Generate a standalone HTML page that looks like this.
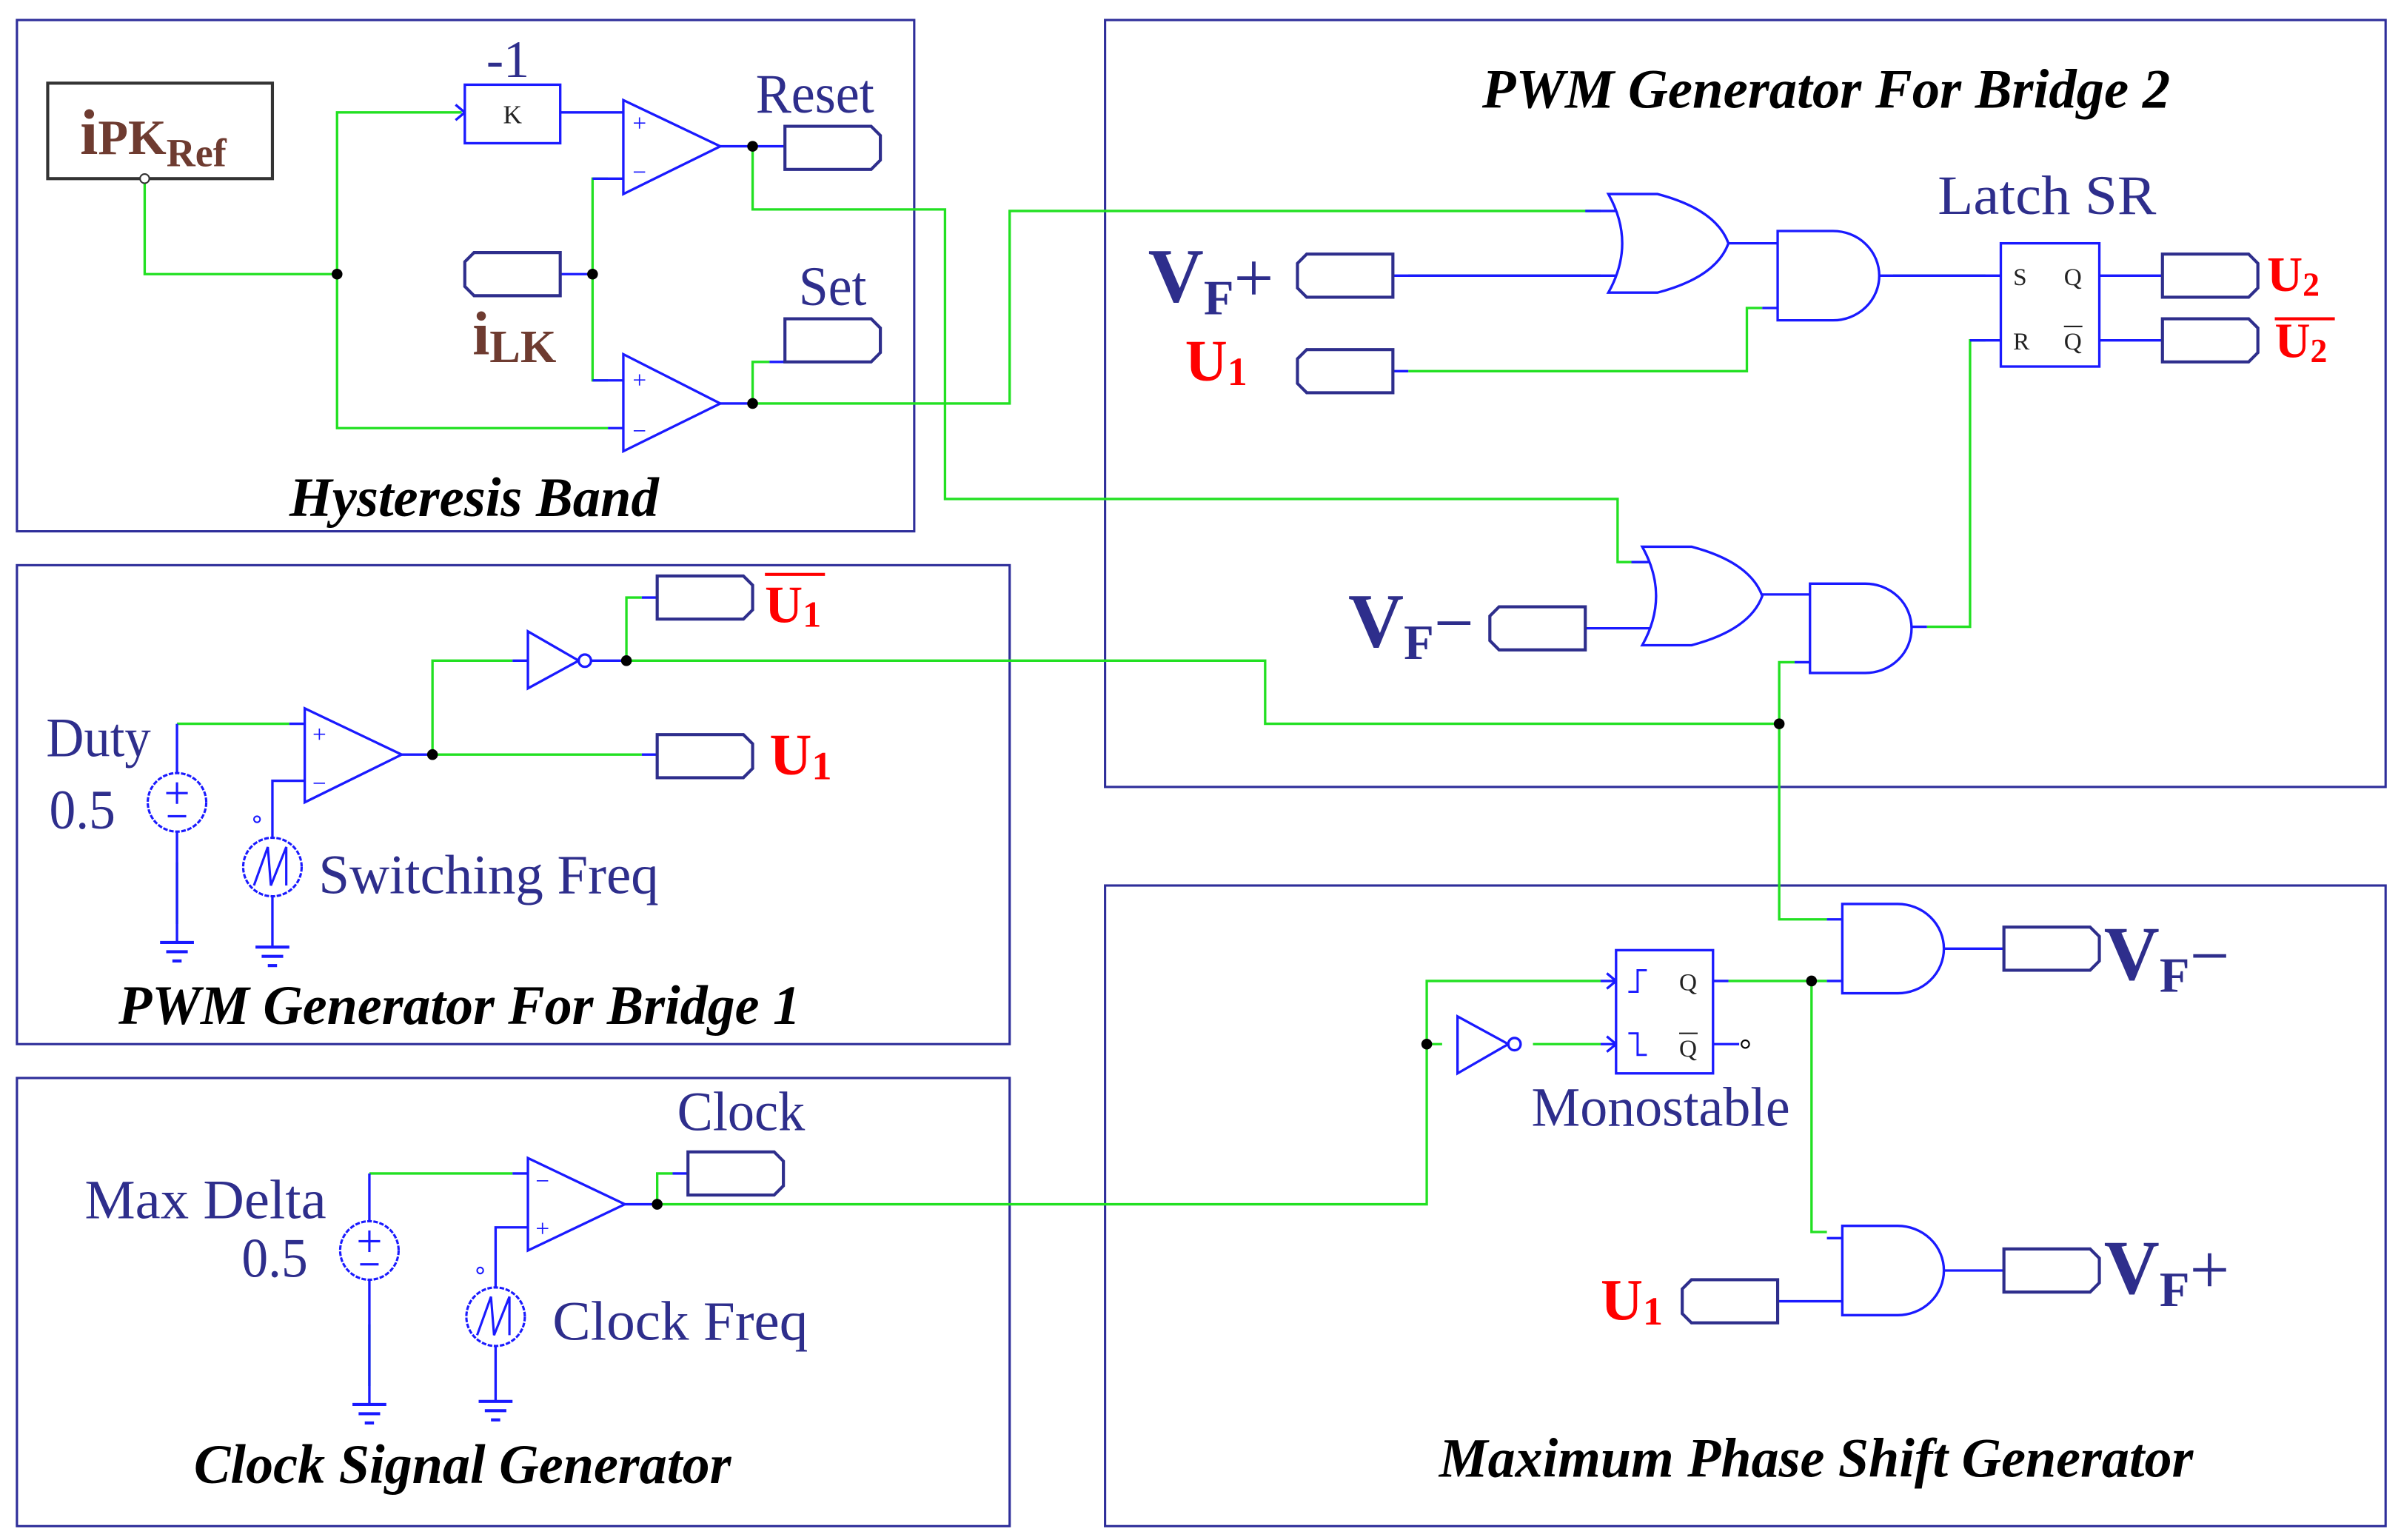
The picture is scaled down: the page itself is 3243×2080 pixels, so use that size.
<!DOCTYPE html>
<html><head><meta charset="utf-8"><style>
html,body{margin:0;padding:0;background:#fff;}
svg{display:block;}
text{font-family:"Liberation Serif",serif;}
.nv{fill:#2e2e8c;}
.rd{fill:#ff0000;font-weight:bold;}
.br{fill:#6e3b30;font-weight:bold;}
.tt{font-weight:bold;font-style:italic;fill:#000;font-size:36px;}
</style></head><body>
<svg width="3243" height="2080" viewBox="0 0 1560 1000" preserveAspectRatio="none" xmlns="http://www.w3.org/2000/svg">
<defs>
<path id="tagR" d="M0,0 h56 l6,6 v16 l-6,6 h-56 z" fill="#fff" stroke="#2e2e8c" stroke-width="2"/>
<path id="tagL" d="M6,0 h56 v28 h-56 l-6,-6 v-16 z" fill="#fff" stroke="#2e2e8c" stroke-width="2"/>
<path id="and" d="M0,0 h36 a30,29 0 0 1 0,58 h-36 z" fill="#fff" stroke="#1a1aff" stroke-width="1.6"/>
<path id="or" d="M0,0 h32 q38,10 46,32 q-8,22 -46,32 h-32 q18,-32 0,-64 z" fill="#fff" stroke="#1a1aff" stroke-width="1.6"/>
<g id="gnd" stroke="#1a1aff" stroke-width="2"><line x1="-11" y1="0" x2="11" y2="0"/><line x1="-7" y1="6" x2="7" y2="6"/><line x1="-3" y1="12" x2="3" y2="12"/></g>
</defs>
<g fill="none" stroke="#2e2e9a" stroke-width="1.5">
<rect x="11" y="13" width="583" height="332"/>
<rect x="718" y="13" width="832" height="498"/>
<rect x="11" y="367" width="645" height="311"/>
<rect x="11" y="700" width="645" height="291"/>
<rect x="718" y="575" width="832" height="416"/>
</g>
<g fill="none" stroke="#22e022" stroke-width="1.6">
<polyline points="94,118 94,178 219,178"/>
<polyline points="300,73 219,73 219,278 395,278"/>
<polyline points="395,116 385,116 385,247 395,247"/>
<polyline points="489,95 489,136 614,136 614,324 1051,324 1051,365 1070,365"/>
<polyline points="489,262 656,262 656,137 1040,137"/>
<polyline points="489,262 489,235 500,235"/>
<line x1="915" y1="179" x2="1040" y2="179"/>
<polyline points="915,241 1135,241 1135,200 1145,200"/>
<line x1="1230" y1="179" x2="1290" y2="179"/>
<polyline points="1252,407 1280,407 1280,221 1290,221"/>
<polyline points="1166,430 1156,430 1156,597 1187,597"/>
<polyline points="407,429 822,429 822,470 1156,470"/>
<polyline points="115,470 188,470"/>
<polyline points="281,490 417,490"/>
<polyline points="281,490 281,429 333,429"/>
<polyline points="407,429 407,388 417,388"/>
<polyline points="240,762 333,762"/>
<polyline points="427,782 927,782 927,637 1040,637"/>
<polyline points="427,782 427,762 437,762"/>
<line x1="927" y1="678" x2="937" y2="678"/>
<line x1="996" y1="678" x2="1040" y2="678"/>
<polyline points="1123,637 1187,637"/>
<polyline points="1177,637 1177,800 1187,800"/>
<line x1="115" y1="560" x2="115" y2="600"/>
<line x1="240" y1="860" x2="240" y2="900"/>
</g>
<g fill="none" stroke="#1a1aff" stroke-width="1.6">
<line x1="364" y1="73" x2="405" y2="73"/>
<line x1="385" y1="116" x2="405" y2="116"/>
<line x1="385" y1="247" x2="405" y2="247"/>
<line x1="395" y1="278" x2="405" y2="278"/>
<line x1="468" y1="95" x2="510" y2="95"/>
<line x1="468" y1="262" x2="489" y2="262"/>
<line x1="500" y1="235" x2="510" y2="235"/>
<line x1="364" y1="178" x2="385" y2="178"/>
<line x1="905" y1="179" x2="1050" y2="179"/>
<line x1="1030" y1="137" x2="1050" y2="137"/>
<line x1="905" y1="241" x2="915" y2="241"/>
<line x1="1116" y1="158" x2="1155" y2="158"/>
<line x1="1145" y1="200" x2="1155" y2="200"/>
<line x1="1221" y1="179" x2="1300" y2="179"/>
<line x1="1280" y1="221" x2="1300" y2="221"/>
<line x1="1364" y1="179" x2="1405" y2="179"/>
<line x1="1364" y1="221" x2="1405" y2="221"/>
<line x1="1060" y1="365" x2="1078" y2="365"/>
<line x1="1030" y1="408" x2="1078" y2="408"/>
<line x1="1138" y1="386" x2="1176" y2="386"/>
<line x1="1166" y1="430" x2="1176" y2="430"/>
<line x1="1242" y1="407" x2="1252" y2="407"/>
<line x1="115" y1="470" x2="115" y2="502"/>
<line x1="115" y1="540" x2="115" y2="612"/>
<line x1="188" y1="470" x2="198" y2="470"/>
<polyline points="198,507 177,507 177,544"/>
<line x1="177" y1="582" x2="177" y2="615"/>
<line x1="261" y1="490" x2="281" y2="490"/>
<line x1="417" y1="490" x2="427" y2="490"/>
<line x1="333" y1="429" x2="343" y2="429"/>
<line x1="383" y1="429" x2="407" y2="429"/>
<line x1="417" y1="388" x2="427" y2="388"/>
<line x1="240" y1="762" x2="240" y2="793"/>
<line x1="240" y1="831" x2="240" y2="912"/>
<line x1="333" y1="762" x2="343" y2="762"/>
<polyline points="343,797 322,797 322,836"/>
<line x1="322" y1="874" x2="322" y2="910"/>
<line x1="406" y1="782" x2="427" y2="782"/>
<line x1="437" y1="762" x2="447" y2="762"/>
<line x1="1040" y1="637" x2="1050" y2="637"/>
<line x1="1040" y1="678" x2="1050" y2="678"/>
<line x1="1113" y1="637" x2="1123" y2="637"/>
<line x1="1113" y1="678" x2="1130" y2="678"/>
<line x1="1187" y1="597" x2="1197" y2="597"/>
<line x1="1187" y1="637" x2="1197" y2="637"/>
<line x1="1187" y1="804" x2="1197" y2="804"/>
<line x1="1155" y1="845" x2="1197" y2="845"/>
<line x1="1263" y1="616" x2="1302" y2="616"/>
<line x1="1263" y1="825" x2="1302" y2="825"/>
<polyline points="296,68 302,73 296,78"/>
<polyline points="1044,632 1050,637 1044,642"/>
<polyline points="1044,673 1050,678 1044,683"/>
</g>
<rect x="31" y="54" width="146" height="62" fill="#fff" stroke="#333" stroke-width="2"/>
<circle cx="94" cy="116" r="3" fill="#fff" stroke="#333"/>
<text x="52" y="100" class="br" font-size="42">i<tspan font-size="32">PK</tspan><tspan font-size="26" dy="8">Ref</tspan></text>
<rect x="302" y="55" width="62" height="38" fill="#fff" stroke="#1a1aff" stroke-width="1.6"/>
<text x="333" y="80" font-size="17" text-anchor="middle" fill="#222">K</text>
<text x="316" y="50" class="nv" font-size="34" textLength="28" lengthAdjust="spacingAndGlyphs">-1</text>
<g fill="#fff" stroke="#1a1aff" stroke-width="1.6">
<polygon points="405,65 405,126 468,95"/>
<polygon points="405,230 405,293 468,262"/>
<polygon points="198,460 198,521 261,490"/>
<polygon points="343,752 343,812 406,782"/>
<polygon points="343,410 343,447 376,429"/>
<circle cx="380" cy="429" r="4"/>
<polygon points="947,660 947,697 980,678"/>
<circle cx="984" cy="678" r="4"/>
</g>
<g fill="#1a1aff" font-size="16" font-family="Liberation Sans,sans-serif">
<text x="411" y="85">+</text><text x="411" y="117">−</text>
<text x="411" y="252">+</text><text x="411" y="285">−</text>
<text x="203" y="482">+</text><text x="203" y="514">−</text>
<text x="348" y="772">−</text><text x="348" y="803">+</text>
</g>
<g fill="#000">
<circle cx="219" cy="178" r="3.5"/><circle cx="385" cy="178" r="3.5"/>
<circle cx="489" cy="95" r="3.5"/><circle cx="489" cy="262" r="3.5"/>
<circle cx="281" cy="490" r="3.5"/><circle cx="407" cy="429" r="3.5"/>
<circle cx="427" cy="782" r="3.5"/><circle cx="927" cy="678" r="3.5"/>
<circle cx="1156" cy="470" r="3.5"/><circle cx="1177" cy="637" r="3.5"/>
</g>
<use href="#tagR" x="510" y="82"/>
<use href="#tagR" x="510" y="207"/>
<use href="#tagL" x="302" y="164"/>
<use href="#tagL" x="843" y="165"/>
<use href="#tagL" x="843" y="227"/>
<use href="#tagR" x="1405" y="165"/>
<use href="#tagR" x="1405" y="207"/>
<use href="#tagL" x="968" y="394"/>
<use href="#tagR" x="427" y="374"/>
<use href="#tagR" x="427" y="477"/>
<use href="#tagR" x="447" y="748"/>
<use href="#tagR" x="1302" y="602"/>
<use href="#tagR" x="1302" y="811"/>
<use href="#tagL" x="1093" y="831"/>
<use href="#or" x="1045" y="126"/>
<use href="#and" x="1155" y="150"/>
<use href="#or" x="1067" y="355"/>
<use href="#and" x="1176" y="379"/>
<use href="#and" x="1197" y="587"/>
<use href="#and" x="1197" y="796"/>
<rect x="1300" y="158" width="64" height="80" fill="#fff" stroke="#1a1aff" stroke-width="1.6"/>
<g font-size="16" fill="#222"><text x="1308" y="185">S</text><text x="1341" y="185">Q</text><text x="1308" y="227">R</text><text x="1341" y="227">Q</text></g>
<line x1="1341" y1="212" x2="1353" y2="212" stroke="#222"/>
<rect x="1050" y="617" width="63" height="80" fill="#fff" stroke="#1a1aff" stroke-width="1.6"/>
<g fill="none" stroke="#1a1aff" stroke-width="1.4"><polyline points="1058,644 1064,644 1064,630 1070,630"/><polyline points="1058,671 1064,671 1064,685 1070,685"/></g>
<g font-size="16" fill="#222"><text x="1091" y="643">Q</text><text x="1091" y="686">Q</text></g>
<line x1="1091" y1="671" x2="1103" y2="671" stroke="#222"/>
<circle cx="1134" cy="678" r="2.5" fill="#fff" stroke="#000"/>
<g fill="#fff" stroke="#1a1aff" stroke-width="1.5" stroke-dasharray="3,1">
<circle cx="115" cy="521" r="19"/><circle cx="177" cy="563" r="19"/>
<circle cx="240" cy="812" r="19"/><circle cx="322" cy="855" r="19"/>
</g>
<g fill="none" stroke="#1a1aff" stroke-width="1.5">
<line x1="108" y1="515" x2="122" y2="515"/><line x1="115" y1="508" x2="115" y2="522"/><line x1="109" y1="530" x2="121" y2="530"/>
<line x1="233" y1="806" x2="247" y2="806"/><line x1="240" y1="799" x2="240" y2="813"/><line x1="234" y1="821" x2="246" y2="821"/>
<polyline points="165,575 174,550 176,575 186,550 186,575"/>
<polyline points="310,867 319,842 321,867 331,842 331,867"/>
</g>
<circle cx="167" cy="532" r="2" fill="none" stroke="#1a1aff"/>
<circle cx="312" cy="825" r="2" fill="none" stroke="#1a1aff"/>
<use href="#gnd" x="115" y="612"/><use href="#gnd" x="177" y="615"/>
<use href="#gnd" x="240" y="912"/><use href="#gnd" x="322" y="910"/>
<text x="491" y="73" class="nv" font-size="36" textLength="77" lengthAdjust="spacingAndGlyphs">Reset</text>
<text x="519" y="198" class="nv" font-size="36" textLength="44" lengthAdjust="spacingAndGlyphs">Set</text>
<text x="307" y="230" class="br" font-size="40">i<tspan font-size="30" dy="5">LK</tspan></text>
<text x="188" y="335" class="tt" textLength="240" lengthAdjust="spacingAndGlyphs">Hysteresis Band</text>
<text x="963" y="70" class="tt" fill="#111" textLength="447" lengthAdjust="spacingAndGlyphs">PWM Generator For Bridge 2</text>
<text x="1259" y="139" class="nv" font-size="36" textLength="142" lengthAdjust="spacingAndGlyphs">Latch  SR</text>
<text x="746" y="196" class="nv" font-size="50" font-weight="bold">V<tspan font-size="32" dy="8">F</tspan><tspan font-size="46" dy="-8" font-weight="normal">+</tspan></text>
<text x="770" y="247" class="rd" font-size="38">U<tspan font-size="26" dy="3">1</tspan></text>
<text x="1473" y="189" class="rd" font-size="32">U<tspan font-size="22" dy="3">2</tspan></text>
<text x="1478" y="232" class="rd" font-size="32">U<tspan font-size="22" dy="3">2</tspan></text>
<line x1="1478" y1="207" x2="1517" y2="207" stroke="#f00" stroke-width="2"/>
<text x="876" y="420" class="nv" font-size="50" font-weight="bold">V<tspan font-size="32" dy="8">F</tspan><tspan font-size="46" dy="-8" font-weight="normal">−</tspan></text>
<text x="497" y="404" class="rd" font-size="34">U<tspan font-size="24" dy="3">1</tspan></text>
<line x1="497" y1="373" x2="536" y2="373" stroke="#f00" stroke-width="2"/>
<text x="500" y="503" class="rd" font-size="38">U<tspan font-size="26" dy="3">1</tspan></text>
<text x="30" y="491" class="nv" font-size="36" textLength="68" lengthAdjust="spacingAndGlyphs">Duty</text>
<text x="32" y="538" class="nv" font-size="36" textLength="43" lengthAdjust="spacingAndGlyphs">0.5</text>
<text x="207" y="580" class="nv" font-size="36" textLength="221" lengthAdjust="spacingAndGlyphs">Switching  Freq</text>
<text x="77" y="665" class="tt" textLength="443" lengthAdjust="spacingAndGlyphs">PWM Generator For Bridge 1</text>
<text x="55" y="791" class="nv" font-size="36" textLength="157" lengthAdjust="spacingAndGlyphs">Max  Delta</text>
<text x="157" y="829" class="nv" font-size="36" textLength="43" lengthAdjust="spacingAndGlyphs">0.5</text>
<text x="440" y="734" class="nv" font-size="36" textLength="83" lengthAdjust="spacingAndGlyphs">Clock</text>
<text x="359" y="870" class="nv" font-size="36" textLength="166" lengthAdjust="spacingAndGlyphs">Clock  Freq</text>
<text x="126" y="963" class="tt" textLength="349" lengthAdjust="spacingAndGlyphs">Clock Signal Generator</text>
<text x="995" y="731" class="nv" font-size="36" textLength="168" lengthAdjust="spacingAndGlyphs">Monostable</text>
<text x="1367" y="636" class="nv" font-size="50" font-weight="bold">V<tspan font-size="32" dy="8">F</tspan><tspan font-size="46" dy="-8" font-weight="normal">−</tspan></text>
<text x="1367" y="840" class="nv" font-size="50" font-weight="bold">V<tspan font-size="32" dy="8">F</tspan><tspan font-size="46" dy="-8" font-weight="normal">+</tspan></text>
<text x="1040" y="857" class="rd" font-size="38">U<tspan font-size="26" dy="3">1</tspan></text>
<text x="935" y="959" class="tt" fill="#111" textLength="490" lengthAdjust="spacingAndGlyphs">Maximum Phase Shift Generator</text>
</svg>
</body></html>
